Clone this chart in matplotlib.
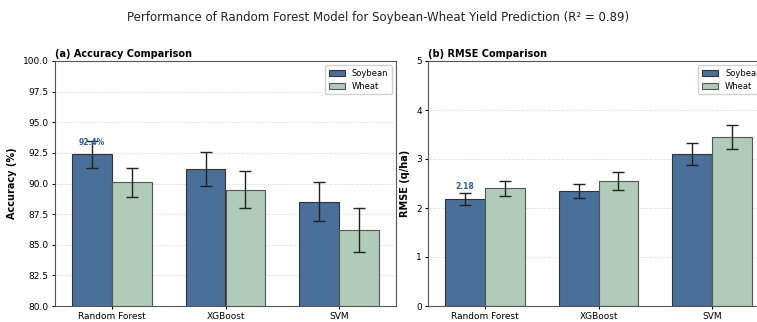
import numpy as np
import matplotlib
matplotlib.use("Agg")
import matplotlib.pyplot as plt

models = ["Random Forest", "XGBoost", "SVM"]
acc_soy = [92.4, 91.2, 88.5]
acc_soy_err = [1.1, 1.4, 1.6]
acc_wheat = [90.1, 89.5, 86.2]
acc_wheat_err = [1.2, 1.5, 1.8]
rmse_soy = [2.18, 2.35, 3.10]
rmse_soy_err = [0.12, 0.15, 0.22]
rmse_wheat = [2.40, 2.55, 3.45]
rmse_wheat_err = [0.15, 0.18, 0.25]

soy_color = "#4a6f98"
wheat_color = "#b0cbb8"
width = 0.35

fig = plt.figure(figsize=(7.57, 3.22), dpi=100)
fig.suptitle("Performance of Random Forest Model for Soybean-Wheat Yield Prediction (R² = 0.89)",
             fontsize=8.5, y=0.965, color="#222222")

ax1 = fig.add_axes([55 / 757, 16 / 322, 341 / 757, 245 / 322])
ax2 = fig.add_axes([428 / 757, 16 / 322, 341 / 757, 245 / 322])

x = np.arange(len(models))


def draw(ax, soy, soy_err, wheat, wheat_err):
    ax.bar(x - width / 2, soy, width, yerr=soy_err, color=soy_color, edgecolor="#333333",
           linewidth=0.8, capsize=4, error_kw={"elinewidth": 1, "ecolor": "#222222", "capthick": 1},
           label="Soybean")
    ax.bar(x + width / 2, wheat, width, yerr=wheat_err, color=wheat_color, edgecolor="#555555",
           linewidth=0.8, capsize=4, error_kw={"elinewidth": 1, "ecolor": "#222222", "capthick": 1},
           label="Wheat")
    ax.set_xticks(x)
    ax.set_xticklabels(models, fontsize=6.5)
    ax.set_xlim(-0.5, 2.5)
    ax.tick_params(axis="y", labelsize=6.5, length=2.5, pad=2)
    ax.tick_params(axis="x", length=2.5, pad=2)
    ax.yaxis.grid(True, linestyle="--", alpha=0.35, linewidth=0.6)
    ax.set_axisbelow(True)
    for s in ax.spines.values():
        s.set_color("#555555")
    ax.legend(loc="upper right", fontsize=6, framealpha=0.9, edgecolor="#cccccc")


draw(ax1, acc_soy, acc_soy_err, acc_wheat, acc_wheat_err)
ax1.set_ylim(80, 100)
ax1.set_yticks(np.arange(80, 100.1, 2.5))
ax1.set_ylabel("Accuracy (%)", fontsize=7, fontweight="bold", labelpad=4)
ax1.set_title("(a) Accuracy Comparison", fontsize=7, fontweight="bold", loc="left", pad=3)
ax1.text(x[0] - width / 2, acc_soy[0] + 0.6, f"{acc_soy[0]}%", ha="center", va="bottom",
         fontsize=5.5, fontweight="bold", color="#2f5f99")

draw(ax2, rmse_soy, rmse_soy_err, rmse_wheat, rmse_wheat_err)
ax2.set_ylim(0, 5)
ax2.set_ylabel("RMSE (q/ha)", fontsize=7, fontweight="bold", labelpad=4)
ax2.set_title("(b) RMSE Comparison", fontsize=7, fontweight="bold", loc="left", pad=3)
ax2.text(x[0] - width / 2, rmse_soy[0] + 0.16, f"{rmse_soy[0]}", ha="center", va="bottom",
         fontsize=5.5, fontweight="bold", color="#2f5f99")

fig.savefig("out.png", dpi=100)
